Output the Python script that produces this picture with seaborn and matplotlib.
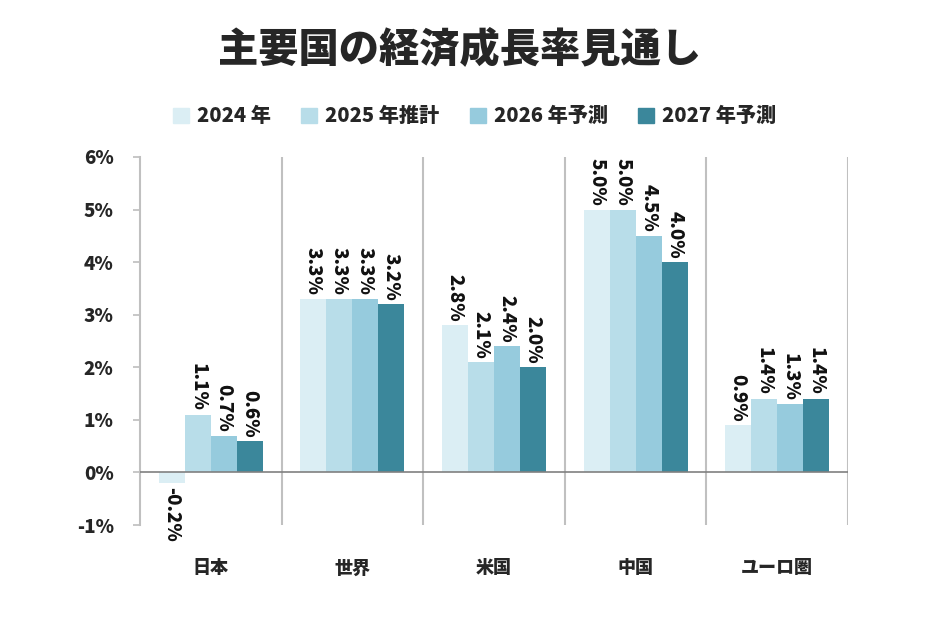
import numpy as np
import pandas as pd
import seaborn as sns
import matplotlib.pyplot as plt

regions = ["日本", "世界", "米国", "中国", "ユーロ圏"]
series = ["2024 年", "2025 年推計", "2026 年予測", "2027 年予測"]
growth_2024 = [-0.2, 3.3, 2.8, 5.0, 0.9]
growth_2025 = [1.1, 3.3, 2.1, 5.0, 1.4]
growth_2026 = [0.7, 3.3, 2.4, 4.5, 1.3]
growth_2027 = [0.6, 3.2, 2.0, 4.0, 1.4]
colors = ["#dbeef4", "#b8dde9", "#96cbdd", "#3b879b"]

rows = []
for name, vals in zip(series, [growth_2024, growth_2025, growth_2026, growth_2027]):
    for reg, v in zip(regions, vals):
        rows.append({"地域": reg, "系列": name, "成長率": v})
df = pd.DataFrame(rows)

sns.set_theme(style="white")
plt.rcParams["font.family"] = ["Noto Sans CJK JP", "DejaVu Sans"]

fig = plt.figure(figsize=(9.25, 6.32), dpi=100)
ax = fig.add_axes([0.1514, 0.1693, 0.7654, 0.5823])

sns.barplot(
    data=df, x="地域", y="成長率", hue="系列", palette=colors,
    width=0.735, ax=ax, legend=False, saturation=1, linewidth=0,
)

# value labels, rotated
for cont in ax.containers:
    for bar in cont:
        h = bar.get_height()
        x = bar.get_x() + bar.get_width() / 2
        if h >= 0:
            ax.text(x, h + 0.07, f"{h:.1f}%", rotation=-90, ha="center", va="bottom",
                    fontsize=13.5, fontweight="black", color="#111111")
        else:
            ax.text(x, h - 0.07, f"{h:.1f}%", rotation=-90, ha="center", va="top",
                    fontsize=13.5, fontweight="black", color="#111111")

ax.set_ylim(-1, 6)
ax.set_xlim(-0.5, len(regions) - 0.5)
ax.set_yticks(range(-1, 7))
ax.set_yticklabels([f"{t}%" for t in range(-1, 7)], fontsize=13.5, fontweight="black")
ax.set_xlabel("")
ax.set_ylabel("")
ax.tick_params(axis="x", length=0, pad=24, labelsize=13)
for lab in ax.get_xticklabels():
    lab.set_fontweight("black")
ax.tick_params(axis="y", length=5, color="#c0c0c0", left=True, pad=14)

for s in ["top", "right", "bottom"]:
    ax.spines[s].set_visible(False)
ax.spines["left"].set_color("#c0c0c0")
ax.spines["left"].set_linewidth(1.5)

for b in np.arange(0.5, len(regions), 1.0):
    ax.axvline(b, color="#c0c0c0", linewidth=1.5, zorder=0)
ax.axhline(0, color="#808080", linewidth=1.2, zorder=3)

# legend
handles = [plt.Rectangle((0, 0), 1, 1, color=c) for c in colors]
fig.legend(handles, series, loc="center", bbox_to_anchor=(0.513, 0.816), ncol=4,
           frameon=False, handlelength=0.8, handleheight=0.8, handletextpad=0.4,
           columnspacing=1.5, prop={"size": 14.5, "weight": "black"})

fig.suptitle("主要国の経済成長率見通し", x=0.497, y=0.955, fontsize=29, fontweight="black")

fig.savefig("out.png", dpi=100)
